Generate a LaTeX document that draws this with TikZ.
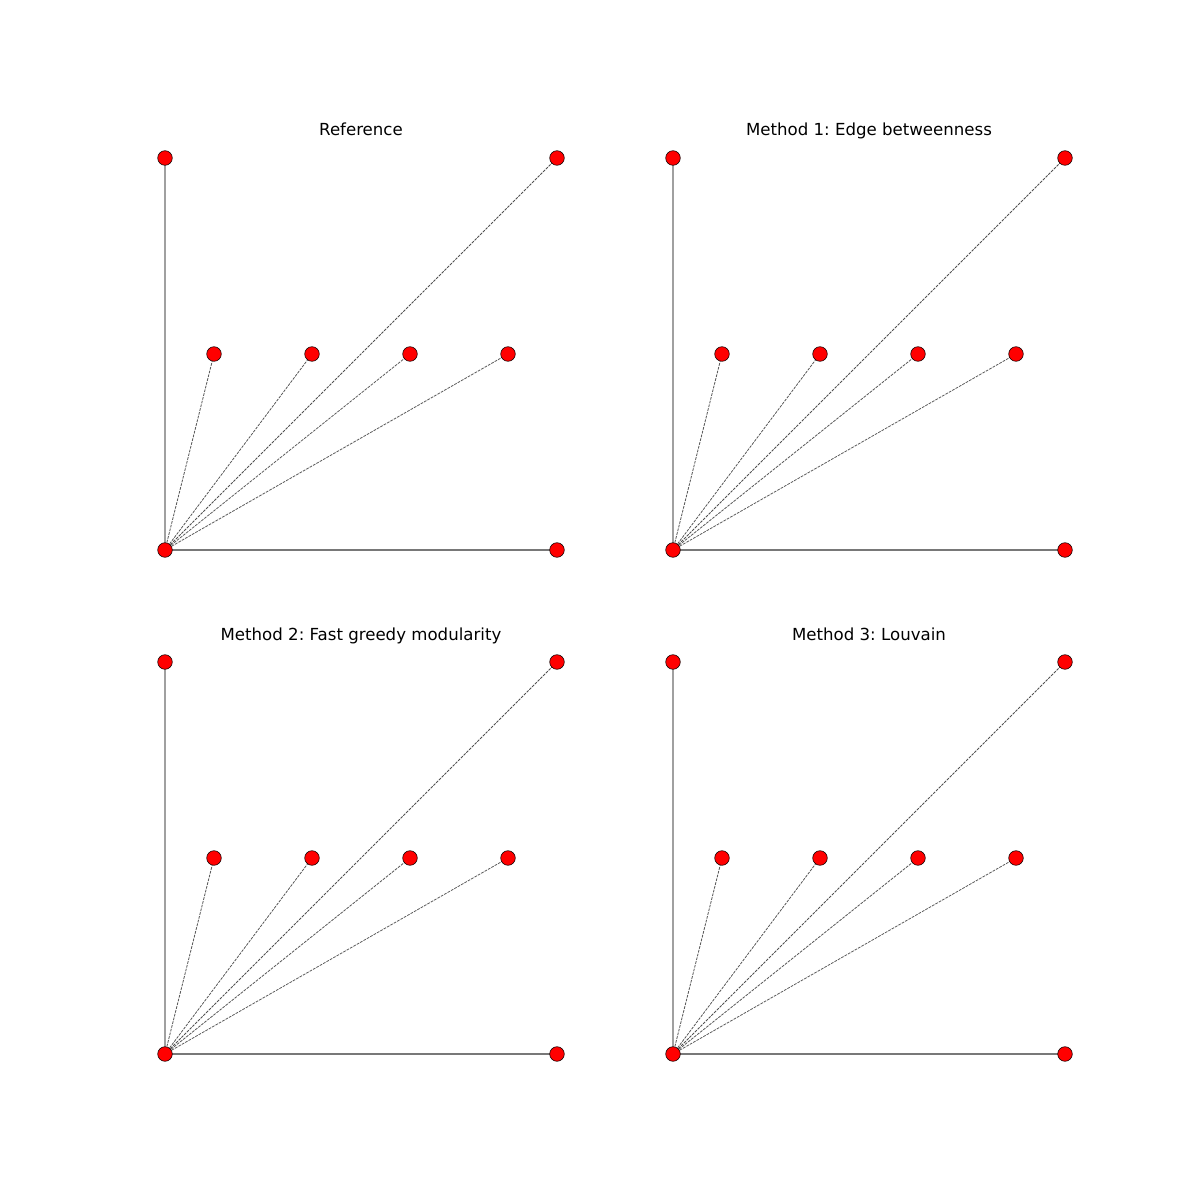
\documentclass[tikz,border=0pt]{standalone}
\usepackage{fontspec}
\setmainfont{DejaVu Sans}
\frenchspacing
\begin{document}
\begin{tikzpicture}[x=0.254mm, y=-0.254mm, line join=round]

    % --- Colors matching the plot ---
    \definecolor{nodefill}{RGB}{255, 0, 0}
    \definecolor{vertedge}{RGB}{160, 160, 160}
    \definecolor{horizedge}{RGB}{120, 120, 120}
    \definecolor{spokeedge}{RGB}{80, 80, 80}

    \useasboundingbox (0,0) rectangle (1200,1200);

    % --- One panel per method (offset in pixels) ---
    \foreach \px/\py/\ptitle in {
        0/0/Reference,
        508/0/{Method 1: Edge betweenness},
        0/504/{Method 2: Fast greedy modularity},
        508/504/{Method 3: Louvain}%
    } {
    \begin{scope}[shift={(\px,\py)}]

        % --- Coordinates ---
        \coordinate (hub) at (165, 550);
        \coordinate (top) at (165, 158);
        \coordinate (corner) at (557, 158);
        \coordinate (right) at (557, 550);
        \coordinate (m1) at (214, 354);
        \coordinate (m2) at (312, 354);
        \coordinate (m3) at (410, 354);
        \coordinate (m4) at (508, 354);

        % --- 1. Edges ---
        \draw[vertedge, line width=1.4pt] (hub) -- (top);
        \draw[horizedge, line width=1.4pt] (hub) -- (right);
        \foreach \v in {m1, m2, m3, m4, corner} {
            \draw[spokeedge, line width=0.55pt, dash pattern=on 2pt off 0.8pt] (hub) -- (\v);
        }

        % --- 2. Nodes ---
        \foreach \n in {hub, top, corner, right, m1, m2, m3, m4} {
            \filldraw[fill=nodefill, draw=black, line width=0.4pt] (\n) circle (7.3);
        }

        % --- 3. Title ---
        \node[font=\fontsize{12}{14}\selectfont, anchor=base] (title) at (361, 136) {\ptitle};

    \end{scope}
    }

\end{tikzpicture}
\end{document}
